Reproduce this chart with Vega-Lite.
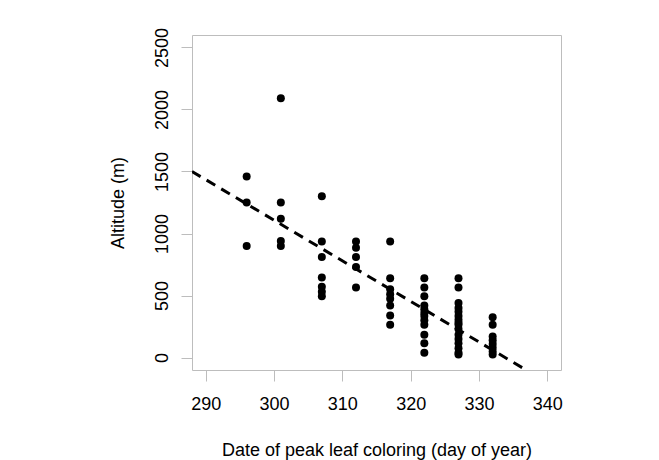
{
  "$schema": "https://vega.github.io/schema/vega-lite/v6.json",
  "width": 369,
  "height": 335,
  "autosize": {"type": "none"},
  "padding": {"left": 192, "top": 35, "right": 98, "bottom": 90},
  "background": "white",
  "config": {
    "view": {"stroke": "#bdbdbd", "strokeWidth": 1},
    "font": "Liberation Sans",
    "axis": {
      "grid": false,
      "domain": false,
      "tickColor": "#bdbdbd",
      "tickSize": 11,
      "tickWidth": 1,
      "labelFont": "Liberation Sans",
      "labelFontSize": 18,
      "labelColor": "black",
      "titleFont": "Liberation Sans",
      "titleFontSize": 18,
      "titleFontWeight": "normal",
      "titleColor": "black"
    }
  },
  "datasets": {
    "points": [
      {"day": 296, "alt": 1460}, {"day": 296, "alt": 1250}, {"day": 296, "alt": 900},
      {"day": 301, "alt": 2090}, {"day": 301, "alt": 1250}, {"day": 301, "alt": 1120}, {"day": 301, "alt": 940}, {"day": 301, "alt": 900},
      {"day": 307, "alt": 1300}, {"day": 307, "alt": 935}, {"day": 307, "alt": 810}, {"day": 307, "alt": 645}, {"day": 307, "alt": 570}, {"day": 307, "alt": 530}, {"day": 307, "alt": 495},
      {"day": 312, "alt": 935}, {"day": 312, "alt": 885}, {"day": 312, "alt": 810}, {"day": 312, "alt": 730}, {"day": 312, "alt": 565},
      {"day": 317, "alt": 935}, {"day": 317, "alt": 640}, {"day": 317, "alt": 550}, {"day": 317, "alt": 510}, {"day": 317, "alt": 475}, {"day": 317, "alt": 420}, {"day": 317, "alt": 340}, {"day": 317, "alt": 265},
      {"day": 322, "alt": 640}, {"day": 322, "alt": 565}, {"day": 322, "alt": 495}, {"day": 322, "alt": 420}, {"day": 322, "alt": 390}, {"day": 322, "alt": 360}, {"day": 322, "alt": 335}, {"day": 322, "alt": 300}, {"day": 322, "alt": 265}, {"day": 322, "alt": 185}, {"day": 322, "alt": 115}, {"day": 322, "alt": 40},
      {"day": 327, "alt": 640}, {"day": 327, "alt": 565}, {"day": 327, "alt": 440}, {"day": 327, "alt": 400}, {"day": 327, "alt": 370}, {"day": 327, "alt": 335}, {"day": 327, "alt": 305}, {"day": 327, "alt": 280}, {"day": 327, "alt": 265}, {"day": 327, "alt": 230}, {"day": 327, "alt": 185}, {"day": 327, "alt": 150}, {"day": 327, "alt": 115}, {"day": 327, "alt": 75}, {"day": 327, "alt": 40}, {"day": 327, "alt": 25},
      {"day": 332, "alt": 325}, {"day": 332, "alt": 265}, {"day": 332, "alt": 170}, {"day": 332, "alt": 140}, {"day": 332, "alt": 110}, {"day": 332, "alt": 80}, {"day": 332, "alt": 50}, {"day": 332, "alt": 25}
    ],
    "fit": [
      {"day": 288, "alt": 1500},
      {"day": 336.9, "alt": -100}
    ]
  },
  "layer": [
    {
      "data": {"name": "points"},
      "mark": {"type": "circle", "size": 64, "color": "black", "opacity": 1},
      "encoding": {
        "x": {
          "field": "day", "type": "quantitative",
          "scale": {"domain": [288, 342], "nice": false, "zero": false},
          "axis": {
            "values": [290, 300, 310, 320, 330, 340],
            "format": "d",
            "title": "Date of peak leaf coloring (day of year)",
            "labelPadding": 14,
            "titlePadding": 28
          }
        },
        "y": {
          "field": "alt", "type": "quantitative",
          "scale": {"domain": [-100, 2600], "nice": false, "zero": false},
          "axis": {
            "values": [0, 500, 1000, 1500, 2000, 2500],
            "format": "d",
            "title": "Altitude (m)",
            "labelAngle": -90,
            "labelAlign": "center",
            "labelBaseline": "alphabetic",
            "labelPadding": 14,
            "titlePadding": 26
          }
        }
      }
    },
    {
      "data": {"name": "fit"},
      "mark": {"type": "line", "color": "black", "strokeWidth": 3, "strokeDash": [10, 7], "clip": true},
      "encoding": {
        "x": {"field": "day", "type": "quantitative"},
        "y": {"field": "alt", "type": "quantitative"}
      }
    }
  ]
}
